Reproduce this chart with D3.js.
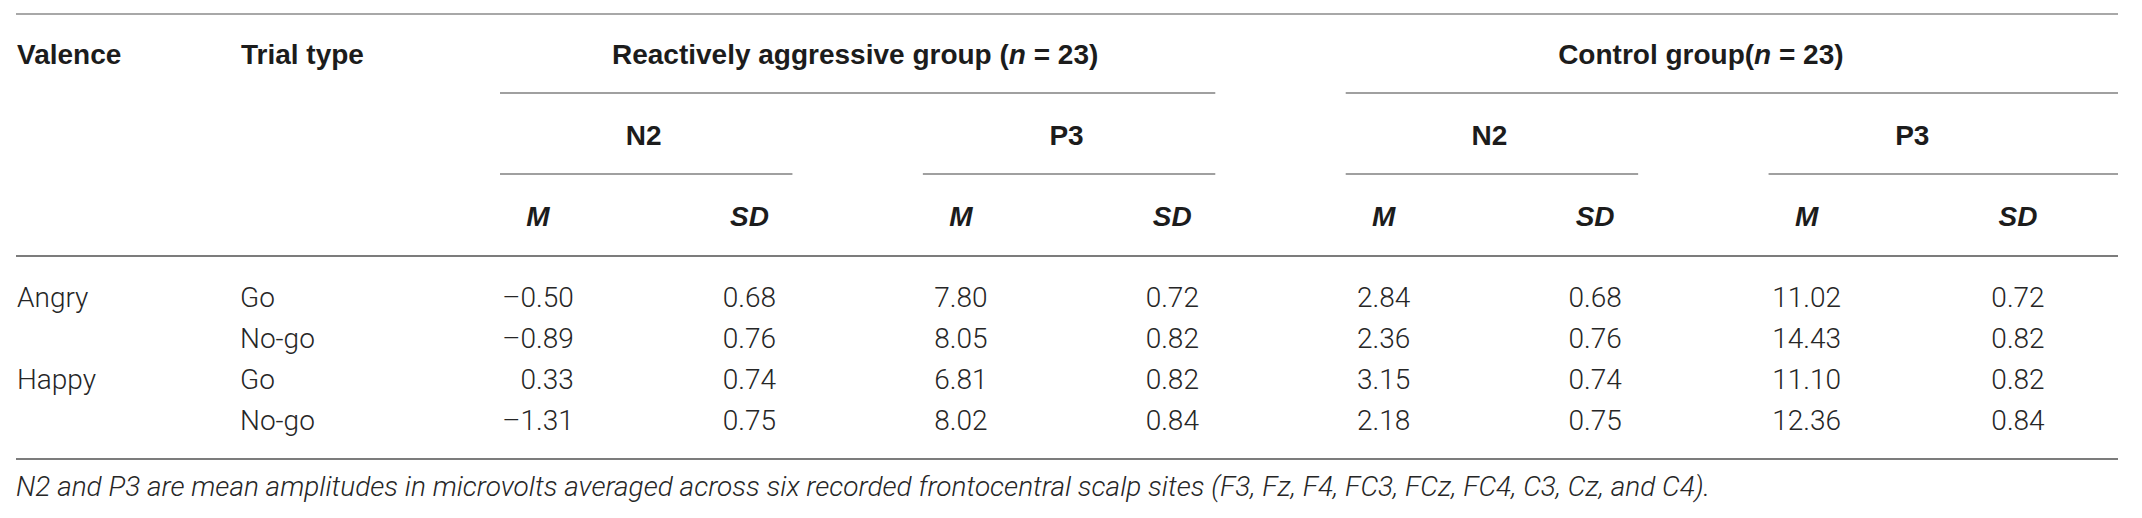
<!DOCTYPE html>
<html>
<head>
<meta charset="utf-8">
<script src="https://cdn.jsdelivr.net/npm/d3@7"></script>
<style>
  body { margin: 0; background: #fff; }
  .hd { font-family: "Liberation Sans", Arial, sans-serif; font-weight: 700; fill: #1c1c1c; }
  .bd { font-family: Roboto, "Liberation Sans", sans-serif; font-weight: 300; fill: #262626; }
</style>
</head>
<body>
<div id="table"></div>
<script>
// row labels
const valence = ['Angry', 'Angry', 'Happy', 'Happy'];
const trialTypes = ['Go', 'No-go', 'Go', 'No-go'];

// header labels
const groups = [
  { label: 'Reactively aggressive group', sep: ' (', n: 23 },
  { label: 'Control group', sep: '(', n: 23 }
];
const components = ['N2', 'P3'];
const stats = ['M', 'SD'];

// values, one array per column
const aggN2M = [-0.50, -0.89, 0.33, -1.31];
const aggN2SD = [0.68, 0.76, 0.74, 0.75];
const aggP3M = [7.80, 8.05, 6.81, 8.02];
const aggP3SD = [0.72, 0.82, 0.82, 0.84];
const ctlN2M = [2.84, 2.36, 3.15, 2.18];
const ctlN2SD = [0.68, 0.76, 0.74, 0.75];
const ctlP3M = [11.02, 14.43, 11.10, 12.36];
const ctlP3SD = [0.72, 0.82, 0.82, 0.84];

const footnote = 'N2 and P3 are mean amplitudes in microvolts averaged across six recorded frontocentral scalp sites (F3, Fz, F4, FC3, FCz, FC4, C3, Cz, and C4).';

const columns = [aggN2M, aggN2SD, aggP3M, aggP3SD, ctlN2M, ctlN2SD, ctlP3M, ctlP3SD];

const widthSvg = 2142;
const heightSvg = 518;
const left = 16;
const right = 2118;
const fontSize = 28;

const fmt = v => (v < 0 ? '\u2013' : '') + Math.abs(v).toFixed(2);

// column centres and row baselines
const x = d3.scaleLinear().domain([0, columns.length - 1]).range([538, 2018]);
const y = d3.scalePoint().domain(d3.range(valence.length)).range([307, 430]);

const yLine = { top: 14, group: 93, comp: 174, head: 256, bottom: 459 };
const yText = { group: 64, comp: 145, stat: 226, note: 496 };

const svg = d3.select('#table').append('svg')
  .attr('width', widthSvg)
  .attr('height', heightSvg)
  .attr('viewBox', `0 0 ${widthSvg} ${heightSvg}`);

// spanning rule from first to last column of a header cell
const spanStart = c => x(c) - 38;
const spanEnd = c => c === columns.length - 1 ? right : x(c) + 43;

const hLine = (y0, x0, x1, color) => svg.append('line')
  .attr('x1', x0).attr('x2', x1)
  .attr('y1', y0).attr('y2', y0)
  .attr('stroke', color)
  .attr('stroke-width', 2);

hLine(yLine.top, left, right, '#a8a8a8');
hLine(yLine.head, left, right, '#7c7c7c');
hLine(yLine.bottom, left, right, '#7c7c7c');

// stub headers
svg.append('text').attr('class', 'hd')
  .attr('x', 17).attr('y', yText.group)
  .attr('font-size', fontSize)
  .text('Valence');
svg.append('text').attr('class', 'hd')
  .attr('x', 241).attr('y', yText.group)
  .attr('font-size', fontSize)
  .text('Trial type');

// group headers
const perGroup = components.length * stats.length;
groups.forEach((g, gi) => {
  const c0 = gi * perGroup;
  const c1 = c0 + perGroup - 1;
  const t = svg.append('text').attr('class', 'hd')
    .attr('x', (x(c0) + x(c1)) / 2)
    .attr('y', yText.group)
    .attr('font-size', fontSize)
    .attr('text-anchor', 'middle');
  t.append('tspan').text(g.label + g.sep);
  t.append('tspan').attr('font-style', 'italic').text('n');
  t.append('tspan').text(` = ${g.n})`);
  hLine(yLine.group, spanStart(c0), spanEnd(c1), '#a0a0a0');

  components.forEach((comp, ci) => {
    const k0 = c0 + ci * stats.length;
    const k1 = k0 + stats.length - 1;
    svg.append('text').attr('class', 'hd')
      .attr('x', (x(k0) + x(k1)) / 2)
      .attr('y', yText.comp)
      .attr('font-size', fontSize)
      .attr('text-anchor', 'middle')
      .text(comp);
    hLine(yLine.comp, spanStart(k0), spanEnd(k1), '#a0a0a0');
  });
});

// M / SD headers
svg.append('g').selectAll('text')
  .data(columns.map((_, i) => stats[i % stats.length]))
  .join('text')
  .attr('class', 'hd')
  .attr('x', (d, i) => x(i))
  .attr('y', yText.stat)
  .attr('font-size', fontSize)
  .attr('font-style', 'italic')
  .attr('text-anchor', 'middle')
  .text(d => d);

// row labels
svg.append('g').selectAll('text')
  .data(valence)
  .join('text')
  .attr('class', 'bd')
  .attr('x', 17)
  .attr('y', (d, i) => y(i))
  .attr('font-size', fontSize)
  .text((d, i) => i === 0 || valence[i - 1] !== d ? d : '');

svg.append('g').selectAll('text')
  .data(trialTypes)
  .join('text')
  .attr('class', 'bd')
  .attr('x', 240)
  .attr('y', (d, i) => y(i))
  .attr('font-size', fontSize)
  .text(d => d);

// values: right aligned inside each column, block centred on the column
columns.forEach((vals, ci) => {
  const g = svg.append('g');
  const cells = g.selectAll('text')
    .data(vals)
    .join('text')
    .attr('class', 'bd')
    .attr('x', x(ci))
    .attr('y', (d, i) => y(i))
    .attr('font-size', fontSize)
    .attr('text-anchor', 'end')
    .text(fmt);
  const maxW = d3.max(cells.nodes(), n => n.getComputedTextLength());
  g.attr('transform', `translate(${maxW / 2}, 0)`);
});

// footnote
svg.append('text').attr('class', 'bd')
  .attr('x', 16)
  .attr('y', yText.note)
  .attr('font-size', fontSize)
  .attr('font-style', 'italic')
  .text(footnote);
</script>
</body>
</html>
